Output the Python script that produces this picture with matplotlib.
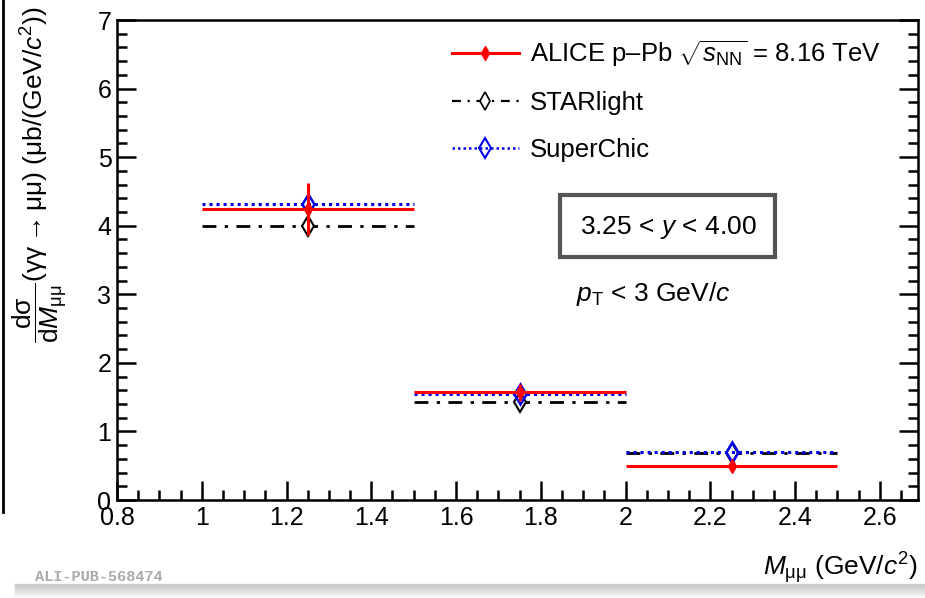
import numpy as np
import matplotlib
matplotlib.use('Agg')
import matplotlib.pyplot as plt
from matplotlib.lines import Line2D
from matplotlib.patches import Rectangle
from matplotlib.ticker import MultipleLocator

plt.rcParams['font.family'] = ['Liberation Sans', 'DejaVu Sans']
plt.rcParams['mathtext.fontset'] = 'custom'
plt.rcParams['mathtext.rm'] = 'Liberation Sans'
plt.rcParams['mathtext.it'] = 'Liberation Sans:italic'
plt.rcParams['mathtext.bf'] = 'Liberation Sans:bold'

# bins in M_mumu (GeV/c^2)
bin_lo = [1.0, 1.5, 2.0]
bin_hi = [1.5, 2.0, 2.5]
bin_mid = [1.25, 1.75, 2.25]

alice = [4.24, 1.57, 0.50]
alice_err = [0.38, 0.12, 0.04]
starlight = [3.99, 1.43, 0.68]
superchic = [4.31, 1.54, 0.70]

W, H = 925, 598
fig = plt.figure(figsize=(W / 100, H / 100), dpi=100)
ax = fig.add_axes([117 / W, 1 - 500 / H, (918 - 117) / W, (500 - 20) / H])

# models
ax.hlines(starlight, bin_lo, bin_hi, colors='black', linewidth=2,
          linestyles=(0, (5, 3, 1.2, 3)))
ax.plot(bin_mid, starlight, linestyle='none', marker='d', markersize=10,
        markerfacecolor='white', markeredgecolor='black', markeredgewidth=1.5)
ax.hlines(superchic, bin_lo, bin_hi, colors='#0000ee', linewidth=2.2,
          linestyles=(0, (1, 1.3)))
ax.plot(bin_mid, superchic, linestyle='none', marker='d', markersize=10,
        markerfacecolor='none', markeredgecolor='#0000ee', markeredgewidth=1.8)

# data
ax.hlines(alice, bin_lo, bin_hi, colors='#ff0000', linewidth=2.2)
ax.errorbar(bin_mid, alice, yerr=alice_err, fmt='d', color='#ff0000',
            markersize=7, elinewidth=2.2, capsize=0)

ax.set_xlim(0.8, 2.69)
ax.set_ylim(0, 7)
ax.xaxis.set_minor_locator(MultipleLocator(0.05))
ax.yaxis.set_major_locator(MultipleLocator(1))
ax.yaxis.set_minor_locator(MultipleLocator(0.2))
ax.set_xticks(np.arange(0.8, 2.61, 0.2))
ax.set_xticklabels(['0.8', '1', '1.2', '1.4', '1.6', '1.8', '2', '2.2', '2.4', '2.6'])
ax.tick_params(which='both', direction='in', top=False, right=True,
               width=1.8, labelsize=18, colors='black')
ax.tick_params(which='major', length=14)
ax.tick_params(which='minor', length=7)
ax.tick_params(axis='x', pad=4)
ax.tick_params(axis='y', pad=4)
for s in ax.spines.values():
    s.set_linewidth(1.8)

# legend
handles = [
    Line2D([], [], color='#ff0000', linewidth=2.2, marker='d', markersize=7),
    Line2D([], [], color='black', linewidth=1.6, linestyle=(0, (4, 3, 1, 3)),
           marker='d', markersize=9, markerfacecolor='white', markeredgewidth=1.2),
    Line2D([], [], color='#0000ee', linewidth=1.8, linestyle=(0, (1, 1.2)),
           marker='d', markersize=10, markerfacecolor='none', markeredgewidth=1.5),
]
labels = [r'ALICE p–Pb $\sqrt{s_{\mathrm{NN}}}$ = 8.16 TeV', 'STARlight', 'SuperChic']
ax.legend(handles, labels, loc='upper left', bbox_to_anchor=(0.389, 1.01),
          frameon=False, fontsize=18.5, handlelength=2.6, handletextpad=0.45,
          labelspacing=0.88)

# kinematic text
ax.text(0.688, 0.568, r'3.25 < $y$ < 4.00', transform=ax.transAxes,
        fontsize=19, ha='center', va='center')
ax.add_patch(Rectangle((560 / W, 1 - 257 / H), (775 - 560) / W, (257 - 195) / H,
                       transform=fig.transFigure, fill=False,
                       edgecolor='#555555', linewidth=3))
ax.text(0.67, 0.43, r'$p_{\mathrm{T}}$ < 3 GeV/$c$', transform=ax.transAxes,
        fontsize=19, ha='center', va='center')

fig.text(40 / W, 1 - 6 / H,
         r'$\dfrac{\mathrm{d\sigma}}{\mathrm{d}M_{\mathrm{\mu\mu}}}$(γγ$\rightarrow$μμ) (μb/(GeV/$c^2$))',
         rotation=90, ha='center', va='top', fontsize=19)
fig.text(918 / W, 1 - 568 / H, r'$M_{\mathrm{\mu\mu}}$ (GeV/$c^2$)',
         ha='right', va='center', fontsize=19)
fig.text(35 / W, 1 - 577 / H, 'ALI-PUB-568474', family='Liberation Mono',
         weight='bold', color='#aaaaaa', fontsize=11, ha='left', va='center')

# page shadow from the screenshot
for i in range(14):
    a = 0.35 * (1 - i / 14)
    fig.add_artist(Line2D([15 / W, 1], [1 - (584 + i) / H] * 2,
                          transform=fig.transFigure, color='gray',
                          alpha=a, linewidth=1))
fig.add_artist(Line2D([3 / W, 3 / W], [1 - 512 / H, 1],
                      transform=fig.transFigure, color='black', linewidth=2))

fig.savefig('out.png', dpi=100)
